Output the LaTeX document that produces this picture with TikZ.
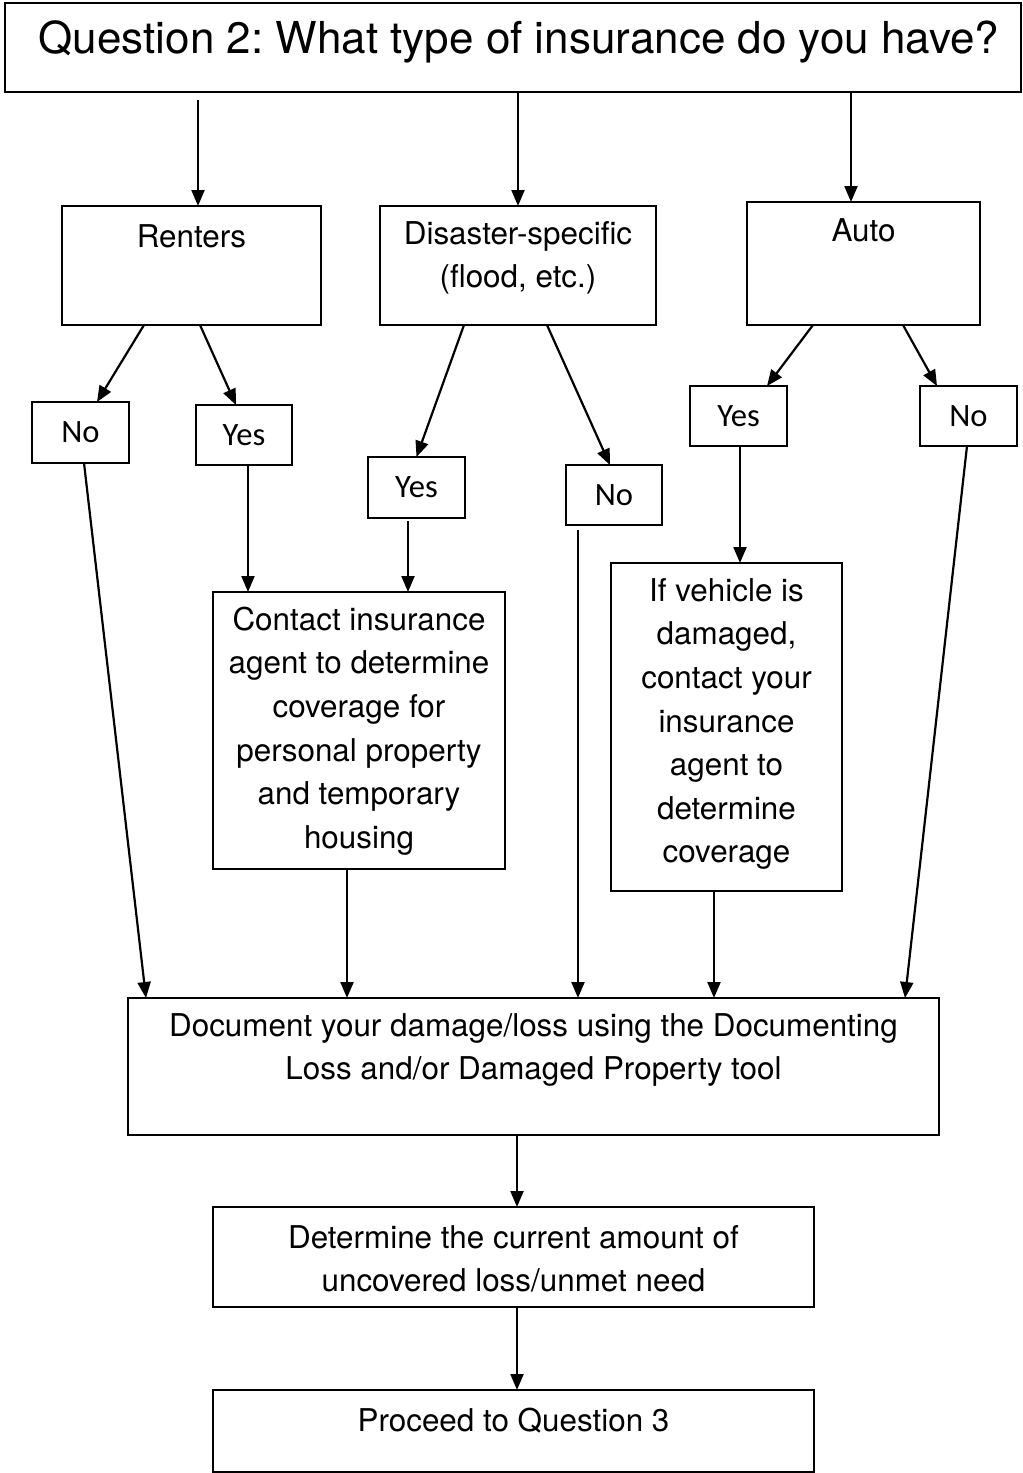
\documentclass[tikz,border=0pt]{standalone}
\usepackage{fontspec}
\setmainfont{TeX Gyre Heros}
\newfontfamily\calibrifont{Carlito}
\usetikzlibrary{arrows.meta,calc}

\begin{document}
\frenchspacing
\begin{tikzpicture}[x=0.5pt,y=-0.5pt,
  box/.style={draw,line width=1pt,inner sep=0pt,outer sep=0pt},
  body/.style={inner sep=0pt,align=center,font=\fontsize{15.7}{21.8}\selectfont},
  answer/.style={inner sep=0pt,font=\calibrifont\fontsize{16.3}{19}\selectfont},
  arr/.style={line width=1.1pt,-{Triangle[length=8pt,width=6.5pt]}}]
\useasboundingbox (0,0) rectangle (1023,1473);

% question box
\node[box,minimum width=508pt,minimum height=44.5pt] (title) at (513,47.5) {};
\node[inner sep=0pt,font=\fontsize{22}{26}\selectfont] (titletext) at (519,42)
  {Question 2: What type of insurance do you have?};

% insurance types
\node[box,minimum width=129.5pt,minimum height=59.5pt] (renters) at (191.5,265.5) {};
\node[body] (renterstext) at (191.5,236) {Renters};
\node[box,minimum width=138pt,minimum height=59.5pt] (disaster) at (518,265.5) {};
\node[body] (disastertext) at (518,258) {Disaster-specific\\(flood, etc.)};
\node[box,minimum width=116.5pt,minimum height=61.5pt] (auto) at (863.5,263.5) {};
\node[body] (autotext) at (863.5,230) {Auto};

% yes / no answers
\node[box,answer,minimum width=48.5pt,minimum height=30.5pt] (noR) at (80.5,432.5) {No};
\node[box,answer,minimum width=48pt,minimum height=30pt] (yesR) at (244,435) {Yes};
\node[box,answer,minimum width=48.5pt,minimum height=30.5pt] (yesD) at (416.5,487.5) {Yes};
\node[box,answer,minimum width=48pt,minimum height=30pt] (noD) at (614,495) {No};
\node[box,answer,minimum width=48.5pt,minimum height=30pt] (yesA) at (738.5,416) {Yes};
\node[box,answer,minimum width=48.5pt,minimum height=30pt] (noA) at (968.5,416) {No};

% follow-up actions
\node[box,minimum width=146pt,minimum height=138.5pt] (contact) at (359,730.5) {};
\node[body] (contacttext) at (359,731) {Contact insurance\\agent to determine\\coverage for\\personal property\\and temporary\\housing};
\node[box,minimum width=115.5pt,minimum height=164pt] (vehicle) at (726.5,727) {};
\node[body] (vehicletext) at (726.5,724) {If vehicle is\\damaged,\\contact your\\insurance\\agent to\\determine\\coverage};

\node[box,minimum width=405.5pt,minimum height=68.5pt] (doc) at (533.5,1066.5) {};
\node[body] (doctext) at (533.5,1050) {Document your damage/loss using the Documenting\\Loss and/or Damaged Property tool};

\node[box,minimum width=300.5pt,minimum height=50pt] (determine) at (513.5,1257) {};
\node[body] (determinetext) at (513.5,1259) {Determine the current amount of\\uncovered loss/unmet need};

\node[box,minimum width=300.5pt,minimum height=41pt] (proceed) at (513.5,1431) {};
\node[body] (proceedtext) at (513.5,1421) {Proceed to Question 3};

% connectors
\draw[arr] ($(title.south)+(-315,8)$) -- ($(renters.north)+(6.5,0)$);
\draw[arr] ($(title.south)+(5,0)$) -- ($(disaster.north)+(0,0)$);
\draw[arr] ($(title.south)+(338,0)$) -- ($(auto.north)+(-12.5,0)$);

\draw[arr] ($(renters.south)+(-47.5,0)$) -- ($(noR.north)+(16.5,0)$);
\draw[arr] ($(renters.south)+(8.5,0)$) -- ($(yesR.north)+(-8,0)$);
\draw[arr] ($(disaster.south)+(-54,0)$) -- ($(yesD.north)+(0,0)$);
\draw[arr] ($(disaster.south)+(29,0)$) -- ($(noD.north)+(-4,0)$);
\draw[arr] ($(auto.south)+(-50.5,0)$) -- ($(yesA.north)+(28.5,0)$);
\draw[arr] ($(auto.south)+(39.5,0)$) -- ($(noA.north)+(-31.5,0)$);

\draw[arr] ($(yesR.south)+(4,0)$) -- ($(contact.north)+(-111,0)$);
\draw[arr] ($(yesD.south)+(-8.5,3)$) -- ($(contact.north)+(49,0)$);
\draw[arr] ($(yesA.south)+(1.5,0)$) -- ($(vehicle.north)+(13.5,0)$);

\draw[arr] ($(noR.south)+(3.5,0)$) -- ($(doc.north)+(-387.5,0)$);
\draw[arr] ($(contact.south)+(-12,0)$) -- ($(doc.north)+(-186.5,0)$);
\draw[arr] ($(noD.south)+(-36,5)$) -- ($(doc.north)+(44.5,0)$);
\draw[arr] ($(vehicle.south)+(-12.5,0)$) -- ($(doc.north)+(180.5,0)$);
\draw[arr] ($(noA.south)+(-1.5,0)$) -- ($(doc.north)+(371.5,0)$);

\draw[arr] ($(doc.south)+(-16.5,0)$) -- ($(determine.north)+(3.5,0)$);
\draw[arr] ($(determine.south)+(3.5,0)$) -- ($(proceed.north)+(3.5,0)$);
\end{tikzpicture}
\end{document}
